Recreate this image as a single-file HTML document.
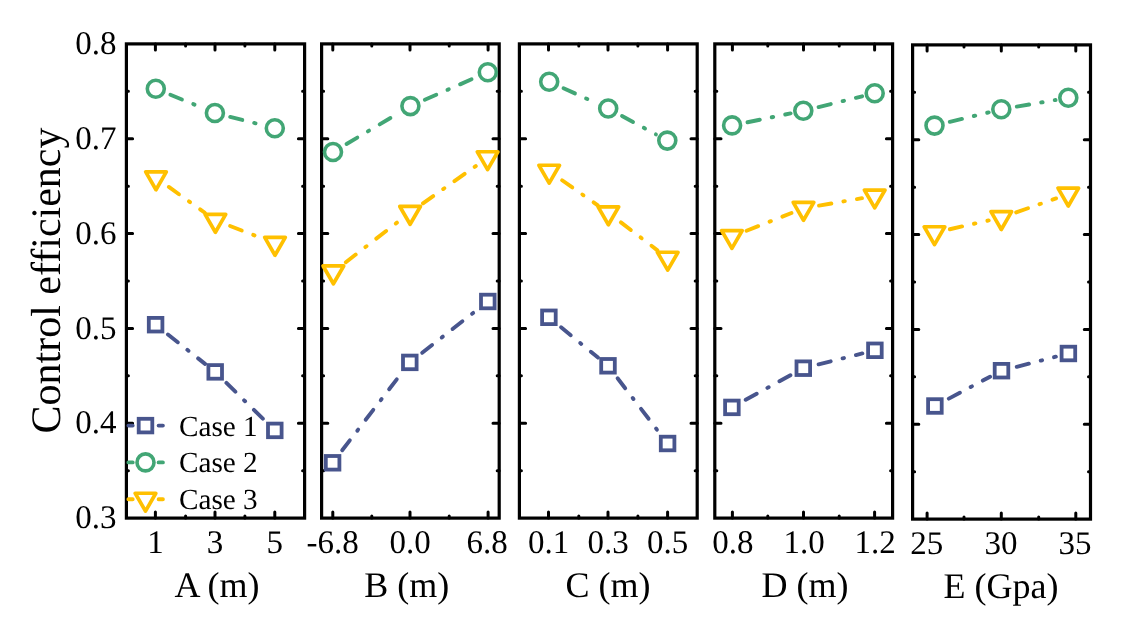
<!DOCTYPE html>
<html><head><meta charset="utf-8"><title>Control efficiency</title>
<style>html,body{margin:0;padding:0;background:#fff;}svg{display:block;filter:blur(0.4px);}text{text-rendering:geometricPrecision;}</style></head>
<body><svg width="1144" height="626" viewBox="0 0 1144 626" font-family="'Liberation Serif', serif" fill="#000">
<path d="M155.4 43.9V50.1M155.4 518.1V511.9M215 43.9V50.1M215 518.1V511.9M274.8 43.9V50.1M274.8 518.1V511.9M185.6 43.9V45.9M185.6 518.1V516.1M244.9 43.9V45.9M244.9 518.1V516.1M126.4 470.68H128.4M304.6 470.68H302.6M126.4 423.26H132.6M304.6 423.26H298.4M126.4 375.84H128.4M304.6 375.84H302.6M126.4 328.42H132.6M304.6 328.42H298.4M126.4 281H128.4M304.6 281H302.6M126.4 233.58H132.6M304.6 233.58H298.4M126.4 186.16H128.4M304.6 186.16H302.6M126.4 138.74H132.6M304.6 138.74H298.4M126.4 91.32H128.4M304.6 91.32H302.6" stroke="#000" stroke-width="3.0" stroke-linecap="round" fill="none"/>
<rect x="126.4" y="43.9" width="178.2" height="474.2" fill="none" stroke="#000" stroke-width="3.2" stroke-linejoin="miter"/>
<text x="155.6" y="553.3" font-size="33" text-anchor="middle">1</text>
<text x="215" y="553.3" font-size="33" text-anchor="middle">3</text>
<text x="274.8" y="553.3" font-size="33" text-anchor="middle">5</text>
<text x="217" y="596.6" font-size="36" text-anchor="middle">A (m)</text>
<path d="M332.8 43.9V50.1M332.8 518.1V511.9M410 43.9V50.1M410 518.1V511.9M488.1 43.9V50.1M488.1 518.1V511.9M371.8 43.9V45.9M371.8 518.1V516.1M449.2 43.9V45.9M449.2 518.1V516.1M321.6 470.68H323.6M499.2 470.68H497.2M321.6 423.26H327.8M499.2 423.26H493M321.6 375.84H323.6M499.2 375.84H497.2M321.6 328.42H327.8M499.2 328.42H493M321.6 281H323.6M499.2 281H497.2M321.6 233.58H327.8M499.2 233.58H493M321.6 186.16H323.6M499.2 186.16H497.2M321.6 138.74H327.8M499.2 138.74H493M321.6 91.32H323.6M499.2 91.32H497.2" stroke="#000" stroke-width="3.0" stroke-linecap="round" fill="none"/>
<rect x="321.6" y="43.9" width="177.6" height="474.2" fill="none" stroke="#000" stroke-width="3.2" stroke-linejoin="miter"/>
<text x="332.7" y="553.3" font-size="33" text-anchor="middle">-6.8</text>
<text x="410" y="553.3" font-size="33" text-anchor="middle">0.0</text>
<text x="487" y="553.3" font-size="33" text-anchor="middle">6.8</text>
<text x="406.7" y="596.6" font-size="36" text-anchor="middle">B (m)</text>
<path d="M548.5 43.9V50.1M548.5 518.1V511.9M608 43.9V50.1M608 518.1V511.9M667.6 43.9V50.1M667.6 518.1V511.9M578.8 43.9V45.9M578.8 518.1V516.1M637.9 43.9V45.9M637.9 518.1V516.1M519.4 470.68H521.4M697.2 470.68H695.2M519.4 423.26H525.6M697.2 423.26H691M519.4 375.84H521.4M697.2 375.84H695.2M519.4 328.42H525.6M697.2 328.42H691M519.4 281H521.4M697.2 281H695.2M519.4 233.58H525.6M697.2 233.58H691M519.4 186.16H521.4M697.2 186.16H695.2M519.4 138.74H525.6M697.2 138.74H691M519.4 91.32H521.4M697.2 91.32H695.2" stroke="#000" stroke-width="3.0" stroke-linecap="round" fill="none"/>
<rect x="519.4" y="43.9" width="177.8" height="474.2" fill="none" stroke="#000" stroke-width="3.2" stroke-linejoin="miter"/>
<text x="548.5" y="553.3" font-size="33" text-anchor="middle">0.1</text>
<text x="608" y="553.3" font-size="33" text-anchor="middle">0.3</text>
<text x="667.6" y="553.3" font-size="33" text-anchor="middle">0.5</text>
<text x="608" y="596.6" font-size="36" text-anchor="middle">C (m)</text>
<path d="M732.4 43.9V50.1M732.4 518.1V511.9M803.5 43.9V50.1M803.5 518.1V511.9M874.6 43.9V50.1M874.6 518.1V511.9M767.8 43.9V45.9M767.8 518.1V516.1M839.2 43.9V45.9M839.2 518.1V516.1M714.8 470.68H716.8M892.6 470.68H890.6M714.8 423.26H721M892.6 423.26H886.4M714.8 375.84H716.8M892.6 375.84H890.6M714.8 328.42H721M892.6 328.42H886.4M714.8 281H716.8M892.6 281H890.6M714.8 233.58H721M892.6 233.58H886.4M714.8 186.16H716.8M892.6 186.16H890.6M714.8 138.74H721M892.6 138.74H886.4M714.8 91.32H716.8M892.6 91.32H890.6" stroke="#000" stroke-width="3.0" stroke-linecap="round" fill="none"/>
<rect x="714.8" y="43.9" width="177.8" height="474.2" fill="none" stroke="#000" stroke-width="3.2" stroke-linejoin="miter"/>
<text x="732.9" y="553.3" font-size="33" text-anchor="middle">0.8</text>
<text x="804.2" y="553.3" font-size="33" text-anchor="middle">1.0</text>
<text x="875.2" y="553.3" font-size="33" text-anchor="middle">1.2</text>
<text x="805" y="596.6" font-size="36" text-anchor="middle">D (m)</text>
<path d="M927.1 44.9V51.1M927.1 519.1V512.9M1001.3 44.9V51.1M1001.3 519.1V512.9M1075.8 44.9V51.1M1075.8 519.1V512.9M964 44.9V46.9M964 519.1V517.1M1038.7 44.9V46.9M1038.7 519.1V517.1M912.6 471.68H914.6M1090.5 471.68H1088.5M912.6 424.26H918.8M1090.5 424.26H1084.3M912.6 376.84H914.6M1090.5 376.84H1088.5M912.6 329.42H918.8M1090.5 329.42H1084.3M912.6 282H914.6M1090.5 282H1088.5M912.6 234.58H918.8M1090.5 234.58H1084.3M912.6 187.16H914.6M1090.5 187.16H1088.5M912.6 139.74H918.8M1090.5 139.74H1084.3M912.6 92.32H914.6M1090.5 92.32H1088.5" stroke="#000" stroke-width="3.0" stroke-linecap="round" fill="none"/>
<rect x="912.6" y="44.9" width="177.9" height="474.2" fill="none" stroke="#000" stroke-width="3.2" stroke-linejoin="miter"/>
<text x="926.7" y="554.3" font-size="33" text-anchor="middle">25</text>
<text x="1001" y="554.3" font-size="33" text-anchor="middle">30</text>
<text x="1075" y="554.3" font-size="33" text-anchor="middle">35</text>
<text x="1001" y="597.6" font-size="36" text-anchor="middle">E (Gpa)</text>
<text x="116.5" y="528.3" font-size="33" text-anchor="end">0.3</text>
<text x="116.5" y="433.46" font-size="33" text-anchor="end">0.4</text>
<text x="116.5" y="338.62" font-size="33" text-anchor="end">0.5</text>
<text x="116.5" y="243.78" font-size="33" text-anchor="end">0.6</text>
<text x="116.5" y="148.94" font-size="33" text-anchor="end">0.7</text>
<text x="116.5" y="54.1" font-size="33" text-anchor="end">0.8</text>
<text transform="translate(59.8,280.5) rotate(-90)" font-size="42" text-anchor="middle">Control efficiency</text>
<path d="M167.95 334.48L177.75 342.24M187.35 349.84L188.45 350.71M198.13 358.38L205.05 363.86M226.44 382.93L235.36 391.69M244.1 400.27L245.1 401.25M253.92 409.9L262.84 418.66" stroke="#48558d" stroke-width="3.9" stroke-linecap="round" fill="none"/>
<rect x="148.8" y="317.9" width="13.6" height="13.6" fill="none" stroke="#48558d" stroke-width="3.8"/>
<rect x="208.4" y="365.1" width="13.6" height="13.6" fill="none" stroke="#48558d" stroke-width="3.8"/>
<rect x="268" y="423.6" width="13.6" height="13.6" fill="none" stroke="#48558d" stroke-width="3.8"/>
<path d="M342.2 450.31L349.82 440.41M357.29 430.69L358.14 429.58M365.67 419.79L373.29 409.88M380.76 400.17L381.61 399.06M389.14 389.27L396.76 379.36M422.21 352.71L432.07 345.01M441.72 337.48L442.83 336.61M452.56 329.01L462.41 321.32M472.07 313.78L473.17 312.92" stroke="#48558d" stroke-width="3.9" stroke-linecap="round" fill="none"/>
<rect x="325.8" y="456" width="13.6" height="13.6" fill="none" stroke="#48558d" stroke-width="3.8"/>
<rect x="403" y="355.6" width="13.6" height="13.6" fill="none" stroke="#48558d" stroke-width="3.8"/>
<rect x="481" y="294.7" width="13.6" height="13.6" fill="none" stroke="#48558d" stroke-width="3.8"/>
<path d="M561.08 327.29L570.74 335.22M580.21 342.99L581.29 343.88M590.84 351.71L597.99 357.58M617.59 378.3L625.19 388.22M632.65 397.94L633.5 399.05M641.02 408.85L648.63 418.76M656.08 428.48L656.93 429.59" stroke="#48558d" stroke-width="3.9" stroke-linecap="round" fill="none"/>
<rect x="542.1" y="310.5" width="13.6" height="13.6" fill="none" stroke="#48558d" stroke-width="3.8"/>
<rect x="601.2" y="359" width="13.6" height="13.6" fill="none" stroke="#48558d" stroke-width="3.8"/>
<rect x="660.8" y="436.7" width="13.6" height="13.6" fill="none" stroke="#48558d" stroke-width="3.8"/>
<path d="M745.71 399.82L756.66 393.8M767.4 387.91L768.63 387.24M779.45 381.29L790.41 375.28M818.58 364.38L830.71 361.35M842.59 358.38L843.95 358.04M855.93 355.04L862.34 353.44" stroke="#48558d" stroke-width="3.9" stroke-linecap="round" fill="none"/>
<rect x="725.1" y="400.6" width="13.6" height="13.6" fill="none" stroke="#48558d" stroke-width="3.8"/>
<rect x="796.5" y="361.4" width="13.6" height="13.6" fill="none" stroke="#48558d" stroke-width="3.8"/>
<rect x="868.1" y="343.5" width="13.6" height="13.6" fill="none" stroke="#48558d" stroke-width="3.8"/>
<path d="M948.82 398.62L959.86 392.77M970.68 387.03L971.92 386.38M982.83 380.59L990.06 376.76M1016.75 366.78L1028.86 363.67M1040.72 360.62L1042.08 360.27M1054.04 357.19L1055.86 356.72" stroke="#48558d" stroke-width="3.9" stroke-linecap="round" fill="none"/>
<rect x="928.1" y="399.2" width="13.6" height="13.6" fill="none" stroke="#48558d" stroke-width="3.8"/>
<rect x="994.7" y="363.9" width="13.6" height="13.6" fill="none" stroke="#48558d" stroke-width="3.8"/>
<rect x="1061.6" y="346.7" width="13.6" height="13.6" fill="none" stroke="#48558d" stroke-width="3.8"/>
<path d="M170.37 94.69L181.93 99.44M193.26 104.1L194.55 104.63M230.17 116.87L242.28 119.95M254.16 122.96L255.51 123.31" stroke="#42a675" stroke-width="3.9" stroke-linecap="round" fill="none"/>
<circle cx="155.8" cy="88.7" r="8.5" fill="none" stroke="#42a675" stroke-width="3.5999999999999996"/>
<circle cx="214.9" cy="113" r="8.5" fill="none" stroke="#42a675" stroke-width="3.5999999999999996"/>
<circle cx="274.8" cy="128.2" r="8.5" fill="none" stroke="#42a675" stroke-width="3.5999999999999996"/>
<path d="M346.55 143.97L357.3 137.59M367.84 131.34L369.04 130.63M379.66 124.33L390.41 117.95M424.83 99.78L436.28 94.77M447.5 89.85L448.78 89.29M460.09 84.34L471.54 79.32" stroke="#42a675" stroke-width="3.9" stroke-linecap="round" fill="none"/>
<circle cx="333" cy="152" r="8.5" fill="none" stroke="#42a675" stroke-width="3.5999999999999996"/>
<circle cx="410.4" cy="106.1" r="8.5" fill="none" stroke="#42a675" stroke-width="3.5999999999999996"/>
<circle cx="487.8" cy="72.2" r="8.5" fill="none" stroke="#42a675" stroke-width="3.5999999999999996"/>
<path d="M563.54 88.21L574.92 93.38M586.07 98.45L587.35 99.03M622.04 116.02L633.02 121.98M643.79 127.83L645.02 128.5M655.87 134.39L655.92 134.42" stroke="#42a675" stroke-width="3.9" stroke-linecap="round" fill="none"/>
<circle cx="549.2" cy="81.7" r="8.5" fill="none" stroke="#42a675" stroke-width="3.5999999999999996"/>
<circle cx="608.2" cy="108.5" r="8.5" fill="none" stroke="#42a675" stroke-width="3.5999999999999996"/>
<circle cx="667.3" cy="140.6" r="8.5" fill="none" stroke="#42a675" stroke-width="3.5999999999999996"/>
<path d="M747.53 122.24L759.77 119.73M771.77 117.26L773.15 116.98M785.24 114.5L790.61 113.4M818.59 107.03L830.73 104.04M842.62 101.11L843.98 100.77M855.97 97.82L862.13 96.3" stroke="#42a675" stroke-width="3.9" stroke-linecap="round" fill="none"/>
<circle cx="732.1" cy="125.4" r="8.5" fill="none" stroke="#42a675" stroke-width="3.5999999999999996"/>
<circle cx="803.3" cy="110.8" r="8.5" fill="none" stroke="#42a675" stroke-width="3.5999999999999996"/>
<circle cx="874.7" cy="93.2" r="8.5" fill="none" stroke="#42a675" stroke-width="3.5999999999999996"/>
<path d="M949.8 121.87L961.94 118.9M973.85 116L975.21 115.67M987.2 112.74L988.72 112.37M1016.82 106.64L1029.14 104.52M1041.22 102.45L1042.6 102.21M1054.77 100.12L1055.54 99.99" stroke="#42a675" stroke-width="3.9" stroke-linecap="round" fill="none"/>
<circle cx="934.5" cy="125.6" r="8.5" fill="none" stroke="#42a675" stroke-width="3.5999999999999996"/>
<circle cx="1001.3" cy="109.3" r="8.5" fill="none" stroke="#42a675" stroke-width="3.5999999999999996"/>
<circle cx="1068.3" cy="97.8" r="8.5" fill="none" stroke="#42a675" stroke-width="3.5999999999999996"/>
<path d="M168.81 186.96L178.97 194.24M188.94 201.37L190.08 202.18M200.12 209.37L204.87 212.76M230.09 225.97L241.76 230.47M253.18 234.88L254.49 235.39" stroke="#ffc000" stroke-width="3.9" stroke-linecap="round" fill="none"/>
<polygon points="145.69,171.85 166.31,171.85 156,189.7" fill="none" stroke="#ffc000" stroke-width="3.6999999999999997" stroke-linejoin="round"/>
<polygon points="205.09,214.35 225.71,214.35 215.4,232.2" fill="none" stroke="#ffc000" stroke-width="3.6999999999999997" stroke-linejoin="round"/>
<polygon points="264.69,237.35 285.31,237.35 275,255.2" fill="none" stroke="#ffc000" stroke-width="3.6999999999999997" stroke-linejoin="round"/>
<path d="M345.84 262.25L355.72 254.58M365.4 247.08L366.51 246.22M376.26 238.65L386.14 230.99M395.82 223.48L396.93 222.62M422.97 203.32L433.18 196.11M443.19 189.05L444.33 188.24M454.42 181.12L464.63 173.91M474.64 166.85L475.79 166.04" stroke="#ffc000" stroke-width="3.9" stroke-linecap="round" fill="none"/>
<polygon points="323.09,265.95 343.71,265.95 333.4,283.8" fill="none" stroke="#ffc000" stroke-width="3.6999999999999997" stroke-linejoin="round"/>
<polygon points="399.79,206.45 420.41,206.45 410.1,224.3" fill="none" stroke="#ffc000" stroke-width="3.6999999999999997" stroke-linejoin="round"/>
<polygon points="477.29,151.75 497.91,151.75 487.6,169.6" fill="none" stroke="#ffc000" stroke-width="3.6999999999999997" stroke-linejoin="round"/>
<path d="M562.09 180.26L572.31 187.44M582.34 194.49L583.48 195.29M593.59 202.39L597.8 205.35M620.91 222.37L630.83 229.97M640.56 237.42L641.67 238.27M651.48 245.78L657.42 250.33" stroke="#ffc000" stroke-width="3.9" stroke-linecap="round" fill="none"/>
<polygon points="538.89,165.25 559.51,165.25 549.2,183.1" fill="none" stroke="#ffc000" stroke-width="3.6999999999999997" stroke-linejoin="round"/>
<polygon points="598.09,206.85 618.71,206.85 608.4,224.7" fill="none" stroke="#ffc000" stroke-width="3.6999999999999997" stroke-linejoin="round"/>
<polygon points="657.39,252.25 678.01,252.25 667.7,270.1" fill="none" stroke="#ffc000" stroke-width="3.6999999999999997" stroke-linejoin="round"/>
<path d="M746.55 230.73L758.18 226.15M769.58 221.66L770.89 221.15M782.38 216.62L791.45 213.05M819.02 205.62L831.34 203.49M843.41 201.41L844.79 201.17M856.96 199.06L861.94 198.2" stroke="#ffc000" stroke-width="3.9" stroke-linecap="round" fill="none"/>
<polygon points="721.59,230.55 742.21,230.55 731.9,248.4" fill="none" stroke="#ffc000" stroke-width="3.6999999999999997" stroke-linejoin="round"/>
<polygon points="793.19,202.35 813.81,202.35 803.5,220.2" fill="none" stroke="#ffc000" stroke-width="3.6999999999999997" stroke-linejoin="round"/>
<polygon points="864.39,190.05 885.01,190.05 874.7,207.9" fill="none" stroke="#ffc000" stroke-width="3.6999999999999997" stroke-linejoin="round"/>
<path d="M949.86 229.23L962.05 226.47M974 223.77L975.37 223.46M987.41 220.74L988.67 220.46M1016.16 212.39L1027.96 208.25M1039.52 204.2L1040.84 203.73M1052.49 199.64L1056.08 198.39" stroke="#ffc000" stroke-width="3.9" stroke-linecap="round" fill="none"/>
<polygon points="924.19,226.75 944.81,226.75 934.5,244.6" fill="none" stroke="#ffc000" stroke-width="3.6999999999999997" stroke-linejoin="round"/>
<polygon points="990.99,211.65 1011.61,211.65 1001.3,229.5" fill="none" stroke="#ffc000" stroke-width="3.6999999999999997" stroke-linejoin="round"/>
<polygon points="1057.99,188.15 1078.61,188.15 1068.3,206" fill="none" stroke="#ffc000" stroke-width="3.6999999999999997" stroke-linejoin="round"/>
<path d="M128.4 425.6H132.7M158.6 425.6H162.9" stroke="#48558d" stroke-width="3.9" stroke-linecap="round"/>
<rect x="138.7" y="418.8" width="13.6" height="13.6" fill="none" stroke="#48558d" stroke-width="3.8"/>
<text x="179" y="435.6" font-size="29.2">Case 1</text>
<path d="M128.4 462.4H132.7M158.6 462.4H162.9" stroke="#42a675" stroke-width="3.9" stroke-linecap="round"/>
<circle cx="145.5" cy="462.4" r="8.5" fill="none" stroke="#42a675" stroke-width="3.5999999999999996"/>
<text x="179" y="472.4" font-size="29.2">Case 2</text>
<path d="M128.4 499.2H132.7M158.6 499.2H162.9" stroke="#ffc000" stroke-width="3.9" stroke-linecap="round"/>
<polygon points="135.19,493.25 155.81,493.25 145.5,511.1" fill="none" stroke="#ffc000" stroke-width="3.6999999999999997" stroke-linejoin="round"/>
<text x="179" y="509.2" font-size="29.2">Case 3</text>
</svg></body></html>
